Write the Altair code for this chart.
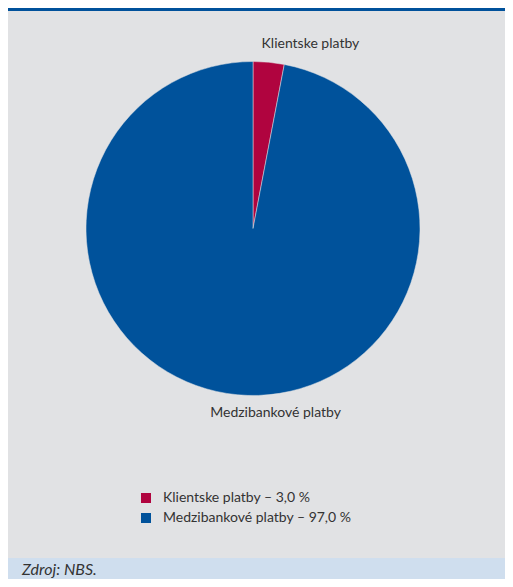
import altair as alt
import pandas as pd

categories = ["Klientske platby", "Medzibankové platby"]
shares = [3.0, 97.0]
legend_labels = ["Klientske platby – 3,0 %", "Medzibankové platby – 97,0 %"]
colors = ["#b0043f", "#00529b"]
source_note = "Zdroj: NBS."

df = pd.DataFrame({
    "name": categories,
    "value": shares,
    "legend": legend_labels,
    "idx": list(range(len(categories))),
})

W, H = 497, 571
CX, CY, R = 245, 220.5, 167
FONT = "Lato"

base = alt.Chart(df)

pie = base.mark_arc(stroke="#e1e2e4", strokeWidth=0.5).encode(
    theta=alt.Theta("value:Q", stack=True),
    color=alt.Color(
        "legend:N",
        scale=alt.Scale(domain=legend_labels, range=colors),
        sort=legend_labels,
        legend=alt.Legend(
            title=None,
            orient="none",
            legendX=131,
            legendY=483,
            symbolType="square",
            symbolSize=100,
            symbolStrokeWidth=0,
            labelFont=FONT,
            labelFontSize=14,
            labelColor="#333333",
            labelOffset=10,
            labelLimit=400,
            rowPadding=6,
            padding=0,
        ),
    ),
    order=alt.Order("idx:Q"),
    x=alt.value(CX),
    y=alt.value(CY),
    radius=alt.value(R),
)

labels = base.mark_text(
    font=FONT, fontSize=14, color="#333333", align="center", baseline="middle", dx=40
).encode(
    theta=alt.Theta("value:Q", stack=True),
    order=alt.Order("idx:Q"),
    text="name:N",
    x=alt.value(CX),
    y=alt.value(CY),
    radius=alt.value(185),
)

one = alt.Data(values=[{"t": source_note}])

header = alt.Chart(one).mark_rect(color="#00519b").encode(
    x=alt.value(0), x2=alt.value(W), y=alt.value(0), y2=alt.value(3)
)

footer = alt.Chart(one).mark_rect(color="#cfdeee").encode(
    x=alt.value(0), x2=alt.value(W), y=alt.value(550), y2=alt.value(H)
)

note = alt.Chart(one).mark_text(
    font=FONT, fontSize=16, fontStyle="italic", color="#333333", align="left", baseline="alphabetic"
).encode(
    text="t:N", x=alt.value(14), y=alt.value(567)
)

chart = alt.layer(header, footer, pie, labels, note).properties(
    width=W, height=H, padding=0, autosize=alt.AutoSizeParams(type="none"),
    background="#e1e2e4",
).configure_view(stroke=None)

chart.save("out.html", embed_options={"renderer": "svg", "actions": False})
